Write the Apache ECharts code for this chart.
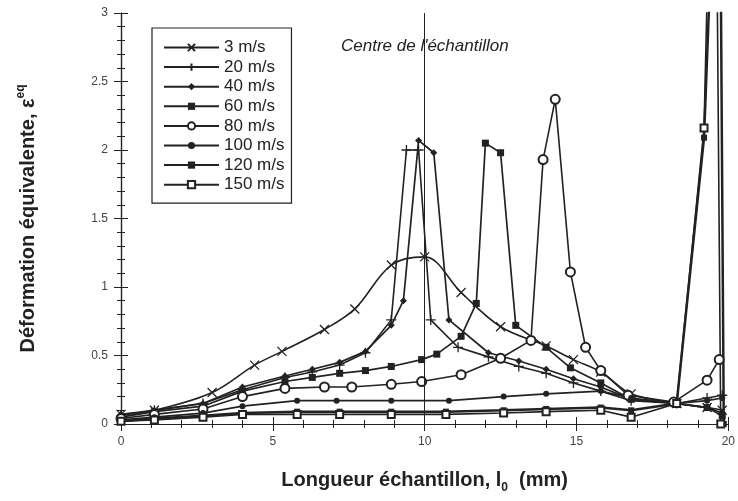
<!DOCTYPE html>
<html><head><meta charset="utf-8">
<script src="https://cdn.jsdelivr.net/npm/echarts@6/dist/echarts.min.js"></script>
<style>html,body{margin:0;padding:0;background:#fff}#c{width:738px;height:501px}</style>
</head><body><div id="c"></div>
<script>
// ---- data (x in mm, y = equivalent strain) ----
const seriesNames = ['3 m/s','20 m/s','40 m/s','60 m/s','80 m/s','100 m/s','120 m/s','150 m/s'];
const x3   = [0, 1.1, 3.0, 4.4, 5.3, 6.7, 7.7, 8.9, 10.0, 11.2, 12.5, 14.0, 14.9, 15.8, 16.8, 18.3, 19.3, 19.8];
const y3   = [0.07, 0.10, 0.23, 0.43, 0.53, 0.69, 0.84, 1.16, 1.22, 0.96, 0.71, 0.57, 0.47, 0.38, 0.22, 0.15, 0.12, 0.10];
const x20  = [0, 1.1, 2.7, 4.0, 5.4, 6.3, 7.2, 8.05, 8.9, 9.4, 9.8, 10.2, 11.1, 12.1, 13.1, 14.0, 14.9, 15.8, 16.8, 18.3, 19.3, 19.8];
const y20  = [0.06, 0.10, 0.15, 0.25, 0.34, 0.38, 0.43, 0.52, 0.76, 2.00, 2.00, 0.76, 0.56, 0.49, 0.42, 0.37, 0.30, 0.24, 0.17, 0.15, 0.19, 0.21];
const x40  = [0, 1.1, 2.7, 4.0, 5.4, 6.3, 7.2, 8.05, 8.9, 9.3, 9.8, 10.3, 10.8, 12.1, 13.1, 14.0, 14.9, 15.8, 16.8, 18.3, 19.3, 19.8];
const y40  = [0.07, 0.10, 0.15, 0.27, 0.35, 0.40, 0.45, 0.53, 0.72, 0.90, 2.07, 1.98, 0.76, 0.52, 0.46, 0.40, 0.33, 0.27, 0.18, 0.15, 0.12, 0.08];
const x60  = [0, 1.1, 2.7, 4.0, 5.4, 6.3, 7.2, 8.05, 8.9, 9.9, 10.4, 11.2, 11.7, 12.0, 12.5, 13.0, 14.0, 14.8, 15.8, 16.8, 18.3, 19.3, 19.8];
const y60  = [0.05, 0.09, 0.13, 0.24, 0.31, 0.34, 0.37, 0.39, 0.42, 0.47, 0.51, 0.64, 0.88, 2.05, 1.98, 0.72, 0.56, 0.41, 0.30, 0.18, 0.15, 0.12, 0.06];
const x80  = [0, 1.1, 2.7, 4.0, 5.4, 6.7, 7.6, 8.9, 9.9, 11.2, 12.5, 13.5, 13.9, 14.3, 14.8, 15.3, 15.8, 16.7, 18.2, 19.3, 19.7];
const y80  = [0.04, 0.07, 0.11, 0.20, 0.26, 0.27, 0.27, 0.29, 0.31, 0.36, 0.48, 0.61, 1.93, 2.37, 1.11, 0.56, 0.39, 0.21, 0.16, 0.32, 0.47];
const x100 = [0, 1.1, 2.7, 4.0, 5.8, 7.1, 8.9, 10.8, 12.6, 14.0, 15.8, 16.8, 18.3, 19.3, 19.8];
const y100 = [0.03, 0.05, 0.08, 0.13, 0.17, 0.17, 0.17, 0.17, 0.20, 0.22, 0.24, 0.19, 0.15, 0.17, 0.19];
const x120 = [0, 1.1, 2.7, 4.0, 5.8, 7.2, 8.9, 10.7, 12.6, 14.0, 15.8, 16.8, 18.3, 19.2, 19.7, 19.85];
const y120 = [0.02, 0.04, 0.06, 0.08, 0.09, 0.09, 0.09, 0.09, 0.10, 0.11, 0.12, 0.10, 0.15, 2.09, 5.0, 0.0];
const x150 = [0, 1.1, 2.7, 4.0, 5.8, 7.2, 8.9, 10.7, 12.6, 14.0, 15.8, 16.8, 18.3, 19.2, 19.55, 19.75];
const y150 = [0.02, 0.03, 0.05, 0.07, 0.07, 0.07, 0.07, 0.07, 0.08, 0.09, 0.10, 0.05, 0.15, 2.16, 5.5, 0.0];
const centreX = 10;
const centreLabel = "Centre de l'échantillon";
const xTicks = [0, 5, 10, 15, 20];
const yTicks = [0, 0.5, 1, 1.5, 2, 2.5, 3];

// ---- chart ----
const INK = '#222';
const zip = (xs, ys) => xs.map((x, i) => [x, ys[i]]);
const crossPath = 'path://M0,0L10,10M10,0L0,10';
const plusPath = 'path://M5,0L5,10M2,5L8,5';
const xs = [x3, x20, x40, x60, x80, x100, x120, x150];
const ys = [y3, y20, y40, y60, y80, y100, y120, y150];
const sym = [
  {symbol: crossPath, size: 9, fill: INK, bw: 1.3},
  {symbol: plusPath, size: 10, fill: INK, bw: 1.3},
  {symbol: 'diamond', size: 7, fill: INK, bw: 0},
  {symbol: 'rect', size: 7, fill: INK, bw: 0},
  {symbol: 'emptyCircle', size: 9, fill: INK, bw: 1.2},
  {symbol: 'circle', size: 6, fill: INK, bw: 0},
  {symbol: 'rect', size: 6, fill: INK, bw: 0},
  {symbol: 'emptyRect', size: 7, fill: INK, bw: 1.2}
];
const lw = [1.6, 1.6, 1.7, 1.7, 1.6, 1.7, 2.5, 1.6];

const series = seriesNames.map((name, i) => ({
  type: 'line', name: name,
  data: zip(xs[i], ys[i]),
  smooth: i === 0 ? 0.35 : false,
  symbol: sym[i].symbol, symbolSize: sym[i].size,
  showAllSymbol: true,
  clip: true,
  lineStyle: {color: INK, width: lw[i]},
  itemStyle: {color: sym[i].fill, borderColor: INK, borderWidth: sym[i].bw},
  emphasis: {disabled: true},
  animation: false
}));
series[0].markLine = {
  symbol: 'none', silent: true, animation: false,
  label: {show: false},
  lineStyle: {color: INK, width: 1, type: 'solid'},
  data: [{xAxis: centreX}]
};

const axisCommon = {
  axisLine: {show: true, lineStyle: {color: INK, width: 1.2}},
  axisTick: {show: true, inside: true, length: 7, lineStyle: {color: INK, width: 1}},
  minorTick: {show: true, splitNumber: 5, length: 4, lineStyle: {color: INK, width: 1}},
  splitLine: {show: false},
  minorSplitLine: {show: false}
};

const chart = echarts.init(document.getElementById('c'), null, {renderer: 'canvas'});
chart.setOption({
  animation: false,
  backgroundColor: '#fff',
  grid: {left: 121, right: 8, top: 13, bottom: 77, containLabel: false},
  legend: {
    orient: 'vertical', left: 152, top: 28,
    itemWidth: 55, itemHeight: 9, itemGap: 2.6,
    padding: [11, 7, 10, 11],
    borderColor: INK, borderWidth: 1.2, backgroundColor: '#fff',
    textStyle: {fontFamily: 'Liberation Sans', fontSize: 17, color: '#222', lineHeight: 17},
    data: seriesNames, selectedMode: false
  },
  xAxis: [
    Object.assign({}, axisCommon, {
      type: 'value', position: 'bottom', min: xTicks[0], max: xTicks[xTicks.length - 1], interval: 5,
      axisLabel: {show: true, margin: 12, color: '#444', fontFamily: 'Liberation Sans', fontSize: 12,
        customValues: xTicks},
      name: 'Longueur échantillon, l{sub|0}  (mm)', nameLocation: 'middle', nameGap: 42,
      nameTextStyle: {fontFamily: 'Liberation Sans', fontWeight: 'bold', fontSize: 20, color: '#222',
        rich: {sub: {fontFamily: 'Liberation Sans', fontWeight: 'bold', fontSize: 12, color: '#222', padding: [16, 0, 0, 0]}}}
    }),
    Object.assign({}, axisCommon, {
      type: 'value', position: 'top', min: 0, max: 20, interval: 5,
      axisLabel: {show: false}
    })
  ],
  yAxis: [
    Object.assign({}, axisCommon, {
      type: 'value', position: 'left', min: yTicks[0], max: yTicks[yTicks.length - 1], interval: 0.5,
      axisLabel: {show: true, margin: 13, color: '#444', fontFamily: 'Liberation Sans', fontSize: 12,
        formatter: v => String(v)},
      name: 'Déformation équivalente, ε{sup|eq}', nameLocation: 'middle', nameGap: 80, nameRotate: 90,
      nameTextStyle: {fontFamily: 'Liberation Sans', fontWeight: 'bold', fontSize: 20, color: '#222',
        rich: {sup: {fontFamily: 'Liberation Sans', fontWeight: 'bold', fontSize: 12, color: '#222', padding: [0, 0, 14, 0]}}}
    }),
    Object.assign({}, axisCommon, {
      type: 'value', position: 'right', min: 0, max: 3, interval: 0.5,
      axisLabel: {show: false}
    })
  ],
  graphic: [{
    type: 'text', left: 341, top: 38, silent: true,
    style: {text: centreLabel, font: 'italic 17px "Liberation Sans"', fill: '#222'}
  }],
  series: series
});
</script></body></html>
